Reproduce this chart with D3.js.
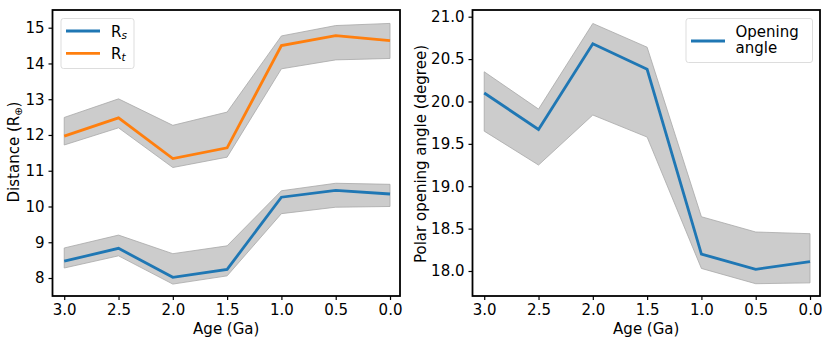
<!DOCTYPE html>
<html><head><meta charset="utf-8">
<script src="https://cdn.jsdelivr.net/npm/d3@7"></script>
<style>body{margin:0;background:#fff}svg{display:block;font-family:"DejaVu Sans",sans-serif}</style>
</head><body><svg id="c" width="830" height="345"></svg>
<script>
const ages = [3.0, 2.5, 2.0, 1.5, 1.0, 0.5, 0.0];
const rs = [8.47, 8.83, 8.02, 8.24, 10.26, 10.45, 10.35];
const rsLow = [8.28, 8.62, 7.83, 8.06, 9.80, 9.98, 10.00];
const rsHigh = [8.84, 9.20, 8.68, 8.90, 10.44, 10.65, 10.62];
const rt = [11.97, 12.48, 11.34, 11.64, 14.50, 14.78, 14.64];
const rtLow = [11.72, 12.20, 11.09, 11.38, 13.85, 14.10, 14.14];
const rtHigh = [12.49, 13.01, 12.27, 12.64, 14.77, 15.06, 15.12];
const ang = [20.10, 19.67, 20.68, 20.38, 18.20, 18.02, 18.11];
const angLow = [19.65, 19.25, 19.84, 19.58, 18.03, 17.85, 17.86];
const angHigh = [20.35, 19.91, 20.92, 20.64, 18.64, 18.46, 18.44];
const xTicks = [3.0, 2.5, 2.0, 1.5, 1.0, 0.5, 0.0];
const yTicksL = [8, 9, 10, 11, 12, 13, 14, 15];
const yTicksR = [18.0, 18.5, 19.0, 19.5, 20.0, 20.5, 21.0];

const svg = d3.select("#c");
const FS = 15;

function panel(o) {
  const g = svg.append("g");
  const x = d3.scaleLinear().domain(o.xd).range([o.x0, o.x1]);
  const y = d3.scaleLinear().domain(o.yd).range([o.y1, o.y0]);
  o.bands.forEach(b => {
    const area = d3.area().x((d, i) => x(ages[i])).y0((d, i) => y(b.lo[i])).y1((d, i) => y(b.hi[i]));
    g.append("path").attr("d", area(ages)).attr("fill", "#cccccc").attr("stroke", "#a8a8a8").attr("stroke-width", 0.8);
  });
  o.lines.forEach(l => {
    const line = d3.line().x((d, i) => x(ages[i])).y(d => y(d));
    g.append("path").attr("d", line(l.v)).attr("fill", "none").attr("stroke", l.c).attr("stroke-width", 2.8);
  });
  const xa = g.append("g").attr("transform", `translate(0,${o.y1})`)
    .call(d3.axisBottom(x).tickValues(xTicks).tickFormat(d3.format(".1f")).tickSize(4).tickPadding(4));
  const ya = g.append("g").attr("transform", `translate(${o.x0},0)`)
    .call(d3.axisLeft(y).tickValues(o.yt).tickFormat(o.yf).tickSize(4).tickPadding(4));
  [xa, ya].forEach(a => {
    a.select(".domain").remove();
    a.selectAll("line").attr("stroke", "#000").attr("stroke-width", 1.2);
    a.selectAll("text").attr("font-size", FS).attr("fill", "#000").attr("font-family", "DejaVu Sans");
  });
  g.append("rect").attr("x", o.x0).attr("y", o.y0).attr("width", o.x1 - o.x0).attr("height", o.y1 - o.y0)
    .attr("fill", "none").attr("stroke", "#000").attr("stroke-width", 1.8);
  g.append("text").attr("x", (o.x0 + o.x1) / 2).attr("y", 334).attr("text-anchor", "middle")
    .attr("font-size", FS).text("Age (Ga)");
  return {g, x, y};
}

// Left panel
const L = panel({x0: 52.5, x1: 400, y0: 10, y1: 296, xd: [3.108, -0.092], yd: [7.497, 15.495],
  yt: yTicksL, yf: d3.format("d"),
  bands: [{lo: rtLow, hi: rtHigh}, {lo: rsLow, hi: rsHigh}],
  lines: [{v: rs, c: "#1f77b4"}, {v: rt, c: "#ff7f0e"}]});
const ylab = L.g.append("text").attr("transform", "translate(19,152) rotate(-90)").attr("text-anchor", "middle").attr("font-size", FS);
ylab.append("tspan").text("Distance (R");
ylab.append("tspan").attr("font-size", 10).attr("dy", 3).text("⊕");
ylab.append("tspan").attr("dy", -3).text(")");

// Left legend
const lg = L.g.append("g");
lg.append("rect").attr("x", 61).attr("y", 18.5).attr("width", 73).attr("height", 50).attr("rx", 2.5)
  .attr("fill", "#fff").attr("fill-opacity", 0.8).attr("stroke", "#dddddd").attr("stroke-width", 1);
[["s", "#1f77b4", 31], ["t", "#ff7f0e", 53.3]].forEach(([s, c, yy]) => {
  lg.append("line").attr("x1", 66).attr("x2", 100).attr("y1", yy).attr("y2", yy).attr("stroke", c).attr("stroke-width", 2.8);
  const t = lg.append("text").attr("x", 111).attr("y", yy + 5.5).attr("font-size", FS);
  t.append("tspan").text("R");
  t.append("tspan").attr("font-style", "italic").attr("font-size", 10.5).attr("dy", 2).text(s);
});

// Right panel
const R = panel({x0: 472.5, x1: 820, y0: 10, y1: 296, xd: [3.108, -0.092], yd: [17.705, 21.079],
  yt: yTicksR, yf: d3.format(".1f"),
  bands: [{lo: angLow, hi: angHigh}],
  lines: [{v: ang, c: "#1f77b4"}]});
R.g.append("text").attr("transform", "translate(426,154) rotate(-90)").attr("text-anchor", "middle").attr("font-size", FS)
  .text("Polar opening angle (degree)");
const rg = R.g.append("g");
rg.append("rect").attr("x", 686).attr("y", 18.5).attr("width", 126.5).attr("height", 44).attr("rx", 2.5)
  .attr("fill", "#fff").attr("fill-opacity", 0.8).attr("stroke", "#dddddd").attr("stroke-width", 1);
rg.append("line").attr("x1", 691).attr("x2", 725).attr("y1", 41).attr("y2", 41).attr("stroke", "#1f77b4").attr("stroke-width", 2.8);
rg.append("text").attr("x", 735.5).attr("y", 36.5).attr("font-size", FS).text("Opening");
rg.append("text").attr("x", 735.5).attr("y", 53).attr("font-size", FS).text("angle");
</script></body></html>
